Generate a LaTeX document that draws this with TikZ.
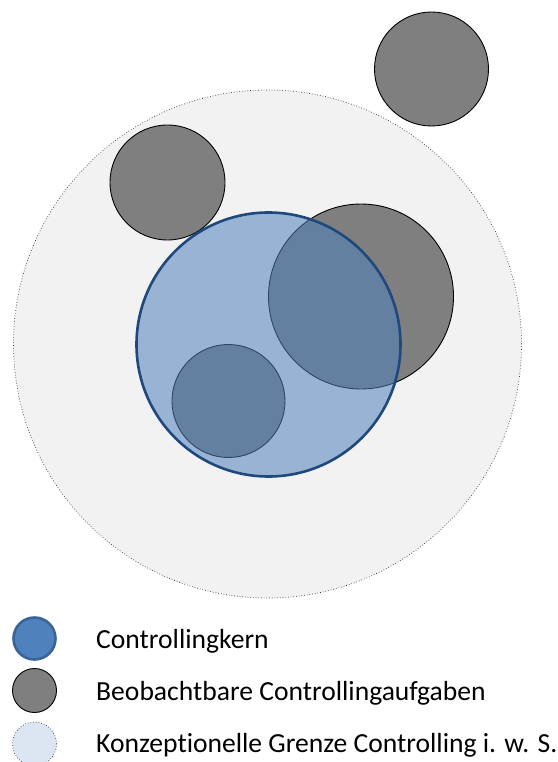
\documentclass[tikz,border=0pt]{standalone}
\usepackage{fontspec}
\setmainfont{Carlito}[Ligatures=NoCommon]
\definecolor{outerfill}{HTML}{F2F2F2}
\definecolor{taskfill}{HTML}{7F7F7F}
\definecolor{kernfill}{HTML}{4F81BD}
\definecolor{kernline}{HTML}{1F497D}
\definecolor{legkernline}{HTML}{3A6499}
\definecolor{boundfill}{HTML}{DCE6F2}
\tikzset{
  px/.style={x=1pt,y=-1pt},
  outer/.style={circle, draw=black!80, dotted, line width=0.7pt, fill=outerfill, inner sep=0pt},
  task/.style={circle, draw=black, line width=0.9pt, fill=taskfill, inner sep=0pt},
  kern/.style={circle, draw=kernline, line width=2.6pt, fill=kernfill, fill opacity=0.55, inner sep=0pt},
  legkern/.style={circle, draw=legkernline, line width=2.6pt, fill=kernfill, inner sep=0pt},
  legbound/.style={circle, draw=black!80, dotted, line width=0.7pt, fill=boundfill, inner sep=0pt},
  legtext/.style={anchor=base west, font=\fontsize{27.6}{32}\selectfont, inner sep=0pt},
}
\begin{document}
\begin{tikzpicture}[px]
\useasboundingbox (0,0) rectangle (557,762);
% outer boundary
\node[outer, minimum size=508pt] (bound) at (267.5,344) {};
% observable tasks
\node[task, minimum size=114pt] (taskA) at (431.5,69) {};
\node[task, minimum size=115pt] (taskB) at (167.5,182.5) {};
\node[task, minimum size=185pt] (taskC) at (361,296.5) {};
\node[task, minimum size=113pt] (taskD) at (228.5,401) {};
% controlling core (semi-transparent)
\node[kern, minimum size=264pt] (kern) at (268.5,344.5) {};
% legend
\node[legkern, minimum size=42pt] (lkern) at (34.5,638.5) {};
\node[task, minimum size=44pt] (ltask) at (34.5,690.5) {};
\node[legbound, minimum size=44pt] (lbound) at (34.5,744) {};
\node[legtext] (tkern) at (96,648) {Controllingkern};
\node[legtext] (ttask) at (96,700) {Beobachtbare Controllingaufgaben};
\node[legtext] (tbound) at (96,752) {Konzeptionelle Grenze Controlling i. w. S.};
\end{tikzpicture}
\end{document}
